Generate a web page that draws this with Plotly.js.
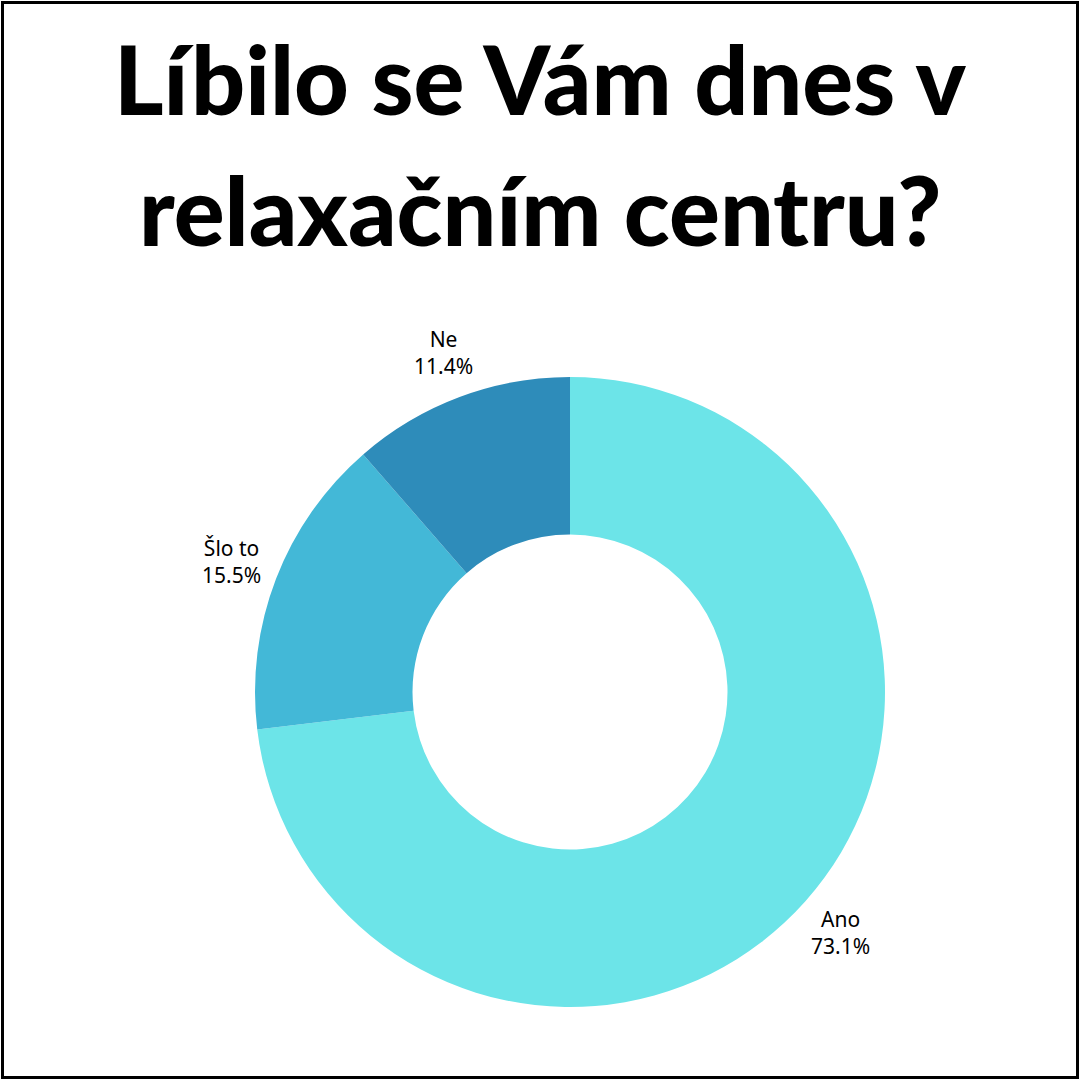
<!DOCTYPE html>
<html>
<head>
<meta charset="utf-8">
<script src="https://cdn.plot.ly/plotly-3.0.1.min.js"></script>
<style>
html,body{margin:0;padding:0;background:#fff;}
#frame{position:absolute;left:1px;top:1px;width:1072px;height:1072px;border:3px solid #000;}
#chart{position:absolute;left:0;top:0;width:1080px;height:1080px;}
</style>
</head>
<body>
<div id="chart"></div>
<div id="frame"></div>
<script>
const titleLines = ["Líbilo se Vám dnes v", "relaxačním centru?"];
const categories = ["Ano", "Šlo to", "Ne"];
const values = [73.1, 15.5, 11.4];
const colors = ["#6CE4E8", "#43B8D7", "#2E8CBA"];

const trace = {
  type: "pie",
  labels: categories,
  values: values,
  hole: 0.5,
  sort: false,
  direction: "clockwise",
  rotation: 0,
  marker: {colors: colors, line: {width: 0}},
  textinfo: "none",
  hoverinfo: "none",
  showlegend: false
};

// label positions derived from the slice mid-angles (clockwise from 12 o'clock)
const total = values.reduce((a, b) => a + b, 0);
const labelR = 0.575; // in paper units of the square plot area
let cum = 0;
const labelAnns = values.map((v, i) => {
  const mid = (cum + v / 2) / total * 2 * Math.PI;
  cum += v;
  return {
    text: categories[i] + "<br>" + v.toFixed(1) + "%",
    xref: "paper", yref: "paper",
    x: 0.5 + labelR * Math.sin(mid),
    y: 0.5 + labelR * Math.cos(mid),
    xanchor: "center", yanchor: "middle",
    showarrow: false,
    font: {family: "Noto Sans, sans-serif", size: 21, color: "#000"}
  };
});

const titleAnns = titleLines.map((t, i) => ({
  text: t,
  xref: "paper", yref: "paper",
  x: (540 - 255) / 630, y: i === 0 ? 1.475 : 1.267,
  xanchor: "center", yanchor: "middle",
  showarrow: false,
  font: {family: "Lato, sans-serif", size: 95, weight: 900, color: "#000"}
}));

const layout = {
  width: 1080,
  height: 1080,
  margin: {l: 255, r: 195, t: 377, b: 73},
  paper_bgcolor: "#fff",
  showlegend: false,
  annotations: titleAnns.concat(labelAnns)
};

Plotly.newPlot("chart", [trace], layout, {displayModeBar: false, staticPlot: true});
</script>
</body>
</html>
